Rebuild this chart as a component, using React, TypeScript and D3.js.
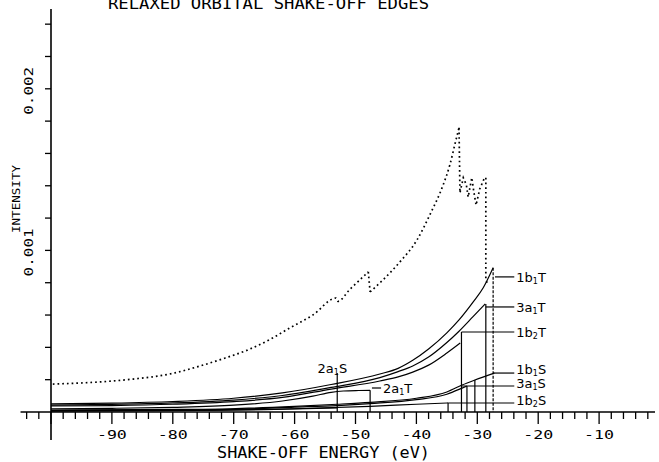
import * as d3 from "d3";

// energies in eV, intensities
const dottedRise = [[-99.7, 0.000173], [-92, 0.000186], [-86.5, 0.000204], [-80.5, 0.000235], [-75.5, 0.000285], [-71.4, 0.000334], [-67.7, 0.000384], [-64, 0.00045], [-60.8, 0.00052], [-57, 0.0006], [-53.2, 0.000705], [-52.9, 0.000685], [-50.9, 0.00076], [-49.5, 0.00081], [-47.9, 0.000867]];
const dottedRise2 = [[-47.6, 0.000743], [-45.5, 0.000817], [-42.7, 0.000929], [-39.9, 0.001065], [-37.8, 0.00122], [-35.6, 0.001406], [-34.5, 0.00153], [-33.7, 0.001653], [-33.0, 0.001759]];
const dottedDrop = [[-47.9, 0.000867], [-47.6, 0.000743]];
const dottedTail = [[-33.0, 0.001759], [-32.85, 0.001356], [-32.3, 0.00145], [-31.8, 0.001406], [-31.5, 0.00133], [-30.9, 0.00145], [-30.6, 0.00137], [-30.2, 0.00128], [-29.6, 0.00138], [-28.8, 0.00145], [-28.6, 0.00145], [-28.6, 0.00082], [-28.4, 0.0008]];

const curve1b1T = [[-100, 0.00005], [-90, 0.000055], [-80, 0.000065], [-70, 0.000085], [-62, 0.000118], [-54, 0.00017], [-46, 0.000235], [-43, 0.00027], [-40.6, 0.00032], [-38, 0.00039], [-35, 0.00049], [-33, 0.00057], [-30.7, 0.00068], [-29, 0.00077], [-27.4, 0.000892]];
const curve3a1T = [[-100, 0.000043], [-90, 0.000047], [-80, 0.000056], [-70, 0.000074], [-62, 0.000102], [-54, 0.000152], [-46, 0.000213], [-43, 0.00025], [-40.6, 0.000285], [-38, 0.00034], [-35, 0.00043], [-33, 0.0005], [-30.7, 0.00059], [-28.7, 0.000669]];
const curve1b2T = [[-100, 0.000037], [-90, 0.00004], [-80, 0.000048], [-70, 0.000064], [-62, 0.00009], [-54, 0.000142], [-46, 0.000192], [-43, 0.000217], [-40.6, 0.000247], [-38, 0.00029], [-35, 0.000365], [-32.8, 0.000427]];
const curve2a1T = [[-100, 0.00002], [-90, 0.000023], [-80, 0.000029], [-70, 0.000042], [-62, 0.000068], [-57, 0.000098], [-54, 0.000122], [-52, 0.00013], [-49.5, 0.000133], [-47.6, 0.000134]];
const curve1b1S = [[-100, 0.000012], [-79, 0.000016], [-70.6, 0.00002], [-60, 0.000035], [-53, 0.000048], [-47.6, 0.00006], [-40, 0.000085], [-35, 0.000124], [-32.5, 0.000167], [-30.4, 0.000198], [-27.2, 0.000241]];
const curve3a1S = [[-100, 0.00001], [-79, 0.000013], [-70.6, 0.000016], [-60, 0.00003], [-53, 0.00004], [-47.6, 0.000052], [-40, 0.000076], [-35, 0.00011], [-32.5, 0.000148], [-31.7, 0.000161]];
const curve1b2S = [[-100, 0.000008], [-79, 0.00001], [-60, 0.00002], [-47.6, 0.000035], [-40, 0.000048], [-34.8, 0.000056]];
const curve2a1S = [[-100, 0.000005], [-79, 0.000008], [-65, 0.000015], [-53, 0.000025]];

const solidCurves = [curve1b1T, curve3a1T, curve1b2T, curve2a1T, curve1b1S, curve3a1S, curve1b2S, curve2a1S];

// edge markers: energy, top intensity, dashed
const edgeEnergies = [-27.4, -28.6, -32.6, -30.4, -31.7, -34.8, -47.6, -53];
const edgeTops = [0.000892, 0.000669, 0.000495, 0.000198, 0.000161, 0.0000557, 0.000134, 0.000241];
const edgeDashed = [true, false, false, false, false, false, false, false];

// right hand labels
const labelMain = ["1b", "3a", "1b", "1b", "3a", "1b"];
const labelSub = ["1", "1", "2", "1", "1", "2"];
const labelKind = ["T", "T", "T", "S", "S", "S"];
const labelLevel = [0.000836, 0.00065, 0.000495, 0.000241, 0.000161, 0.0000557];
const labelShift = [5, 5, 5, 1.2, 2.5, 2.5];
const leaderStart = [-27.1, -28.6, -32.6, -27.4, -32.5, -34.8];
const labelEnergy = -23.6;

const xTicks = d3.range(-104, -1, 2);
const xTickLabels = [-90, -80, -70, -60, -50, -40, -30, -20, -10];
const yTicks = d3.range(1, 13).map(i => i * 0.0002);
const yTickLabels = [0.001, 0.002];

export default function App() {
    const x = d3.scaleLinear().domain([-100, 0]).range([51, 660]);
    const y = d3.scaleLinear().domain([0, 0.0025]).range([412, 8]);

    const smooth = d3.line<number[]>().x(d => x(d[0])).y(d => y(d[1])).curve(d3.curveMonotoneX);
    const straight = d3.line<number[]>().x(d => x(d[0])).y(d => y(d[1]));

    const mono = "'DejaVu Sans Mono', monospace";
    const sans = "'DejaVu Sans', sans-serif";

    return (
        <svg width={659} height={462} style={{ position: "absolute", left: 0, top: 0, background: "white" }}>
            {/* title, top half cut off in the scan */}
            <text x={108} y={9} fontFamily={mono} fontSize={16} textLength={321} lengthAdjust="spacingAndGlyphs">RELAXED ORBITAL SHAKE-OFF EDGES</text>

            {/* axes */}
            <line x1={x(-100)} x2={x(-100)} y1={9} y2={440} stroke="black" strokeWidth={1.6} />
            <line x1={x(-105)} x2={655} y1={y(0)} y2={y(0)} stroke="black" strokeWidth={1.6} />
            {xTicks.map(v => (
                <line key={v} x1={x(v)} x2={x(v)} y1={y(0)} y2={y(0) + (v % 10 === 0 ? 12 : 7)} stroke="black" strokeWidth={1.3} />
            ))}
            {yTicks.map(v => (
                <line key={v} x1={x(-100) - 6} x2={x(-100)} y1={y(v)} y2={y(v)} stroke="black" strokeWidth={1.3} />
            ))}
            {xTickLabels.map(v => (
                <text key={v} x={x(v)} y={439} textAnchor="middle" fontFamily={mono} fontSize={12} textLength={30} lengthAdjust="spacingAndGlyphs">{v}</text>
            ))}
            {yTickLabels.map(v => (
                <text key={v} transform={`translate(33,${y(v) + 2}) rotate(-90)`} textAnchor="middle" fontFamily={mono} fontSize={13} textLength={48} lengthAdjust="spacingAndGlyphs">{v.toFixed(3)}</text>
            ))}
            <text transform="translate(20,199) rotate(-90)" textAnchor="middle" fontFamily={mono} fontSize={11} textLength={68} lengthAdjust="spacingAndGlyphs">INTENSITY</text>
            <text x={217} y={457.5} fontFamily={mono} fontSize={15} textLength={213} lengthAdjust="spacingAndGlyphs">SHAKE-OFF ENERGY (eV)</text>

            {/* total, dotted */}
            {[smooth(dottedRise), straight(dottedDrop), smooth(dottedRise2), straight(dottedTail)].map((d, i) => (
                <path key={i} d={d || ""} fill="none" stroke="black" strokeWidth={1.7} strokeDasharray="1.7 3" />
            ))}

            {/* channel curves */}
            {solidCurves.map((c, i) => (
                <path key={i} d={smooth(c) || ""} fill="none" stroke="black" strokeWidth={1.2} />
            ))}

            {/* edges */}
            {edgeEnergies.map((e, i) => (
                <line key={i} x1={x(e)} x2={x(e)} y1={y(edgeTops[i])} y2={y(0)} stroke="black" strokeWidth={1.2}
                    strokeDasharray={edgeDashed[i] ? "3 1.5" : undefined} />
            ))}

            {/* leaders and labels */}
            {labelMain.map((m, i) => (
                <g key={i}>
                    <line x1={x(leaderStart[i])} x2={x(labelEnergy) - 2} y1={y(labelLevel[i])} y2={y(labelLevel[i])} stroke="black" strokeWidth={1.2} />
                    <text x={x(labelEnergy)} y={y(labelLevel[i]) + labelShift[i]} fontFamily={sans} fontSize={13}>
                        {m}<tspan fontSize={8} dy={2}>{labelSub[i]}</tspan><tspan dy={-2}>{labelKind[i]}</tspan>
                    </text>
                </g>
            ))}
            <line x1={x(-47.3)} x2={x(-45.8)} y1={388} y2={388} stroke="black" strokeWidth={1.2} />
            <text x={x(-45.5)} y={393} fontFamily={sans} fontSize={13}>
                2a<tspan fontSize={8} dy={2}>1</tspan><tspan dy={-2}>T</tspan>
            </text>
            <text x={x(-53.8)} y={y(0.000241)} textAnchor="middle" fontFamily={sans} fontSize={13}>
                2a<tspan fontSize={8} dy={2}>1</tspan><tspan dy={-2}>S</tspan>
            </text>
        </svg>
    );
}
